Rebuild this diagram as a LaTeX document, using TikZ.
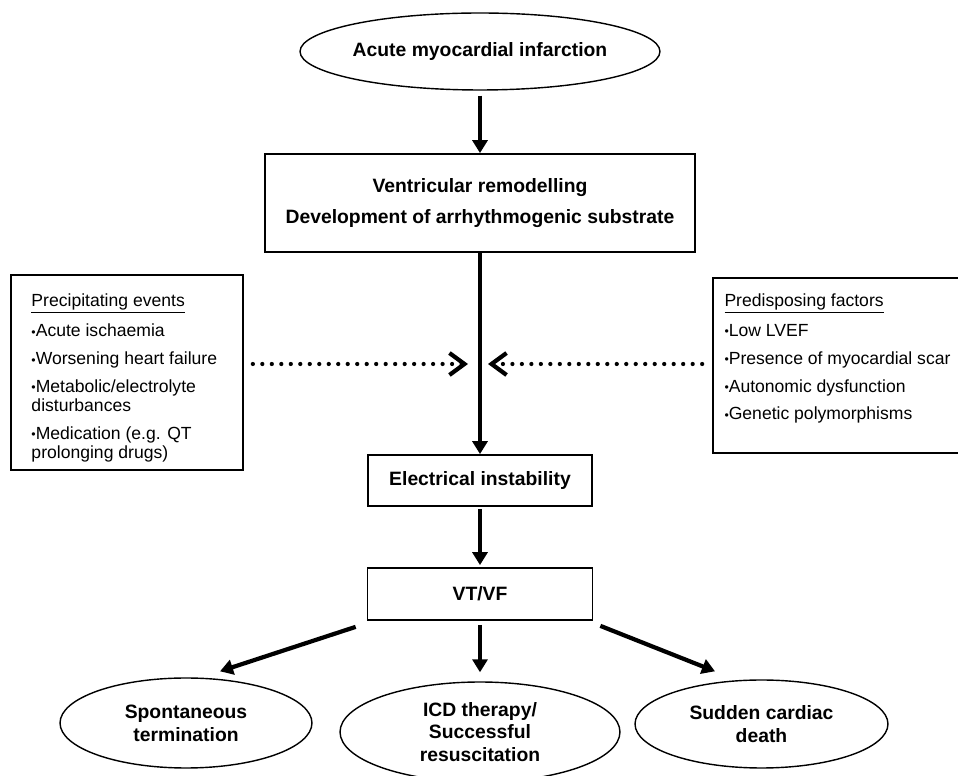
\documentclass[tikz,border=0pt]{standalone}
\usepackage{fontspec}
\setmainfont{Liberation Sans}
\usetikzlibrary{arrows.meta,shapes.geometric}
\newcommand{\bul}{\raisebox{0.4pt}{\fontsize{7}{7}\selectfont\textbullet}}

\begin{document}
\begin{tikzpicture}[x=0.02cm,y=-0.02cm,
  event/.style={draw,ellipse,line width=0.8pt,inner sep=0pt,align=center,font=\bfseries\fontsize{11}{13}\selectfont},
  stage/.style={draw,rectangle,line width=1pt,inner sep=0pt,align=center,font=\bfseries\fontsize{11}{13}\selectfont},
  factorbox/.style={draw,rectangle,line width=1pt,inner sep=0pt},
  factortext/.style={anchor=north west,inner sep=0pt,align=left,font=\fontsize{10}{10.8}\selectfont},
  flow/.style={line width=2.4pt,-{Triangle[length=0.26cm,width=0.3cm]}},
  influence/.style={line width=2.4pt,line cap=round,dash pattern=on 0pt off 5.4pt,-{Straight Barb[length=0.3cm,width=0.44cm]}}]

  \useasboundingbox (0,0) rectangle (958,776);
  \clip (0,0) rectangle (958,776);

  \node[event,minimum width=6.7cm,minimum height=1.54cm] (ami) at (480,51.5) {Acute myocardial infarction};
  \node[stage,minimum width=8.6cm,minimum height=1.96cm] (remod) at (480,203) {Ventricular remodelling\\[4.6pt]Development of arrhythmogenic substrate};
  \node[stage,minimum width=4.48cm,minimum height=1.02cm] (elec) at (480,480.5) {Electrical instability};
  \node[stage,minimum width=4.5cm,minimum height=1.04cm] (vtvf) at (480,594) {VT/VF};

  \node[event,minimum width=5.04cm,minimum height=1.8cm] (spont) at (186,723) {Spontaneous\\termination};
  \node[event,minimum width=5.6cm,minimum height=2cm] (icd) at (480,732) {ICD therapy/\\Successful\\resuscitation};
  \node[event,minimum width=5.06cm,minimum height=1.76cm] (scd) at (761.5,724) {Sudden cardiac\\death};

  \node[factorbox,minimum width=4.64cm,minimum height=3.9cm] (precip) at (127,372.5) {};
  \node[factortext] (preciptext) at ([shift={(21,19)}]precip.north west) {\underline{Precipitating events}\\[5.1pt]
    \bul Acute ischaemia\\[5.1pt]
    \bul Worsening heart failure\\[5.1pt]
    \bul Metabolic/electrolyte\\disturbances\\[5.1pt]
    \bul Medication (e.g. QT\\prolonging drugs)};

  \node[factorbox,minimum width=5.8cm,minimum height=3.5cm] (predisp) at (858,365.5) {};
  \node[factortext] (predisptext) at ([shift={(12,16)}]predisp.north west) {\underline{Predisposing factors}\\[5.1pt]
    \bul Low LVEF\\[5.1pt]
    \bul Presence of myocardial scar\\[5.1pt]
    \bul Autonomic dysfunction\\[5.1pt]
    \bul Genetic polymorphisms};

  \coordinate (meet) at (480,364);

  \draw[flow,shorten <=0.1cm] (ami) -- (remod);
  \draw[flow] (remod) -- (elec);
  \draw[flow,shorten <=0.04cm,shorten >=0.04cm] (elec) -- (vtvf);
  \draw[flow] ([shift={(-11,6)}]vtvf.south west) -- ([shift={(34,-6)}]spont.north);
  \draw[flow,shorten <=0.08cm,shorten >=0.18cm] (vtvf) -- (icd);
  \draw[flow] ([shift={(7,5)}]vtvf.south east) -- ([shift={(-46.5,-8)}]scd.north);

  \draw[influence,shorten <=0.18cm,shorten >=0.24cm] (precip.east |- meet) -- (meet);
  \draw[influence,shorten <=0.2cm,shorten >=0.16cm] (predisp.west |- meet) -- (meet);

\end{tikzpicture}
\end{document}
